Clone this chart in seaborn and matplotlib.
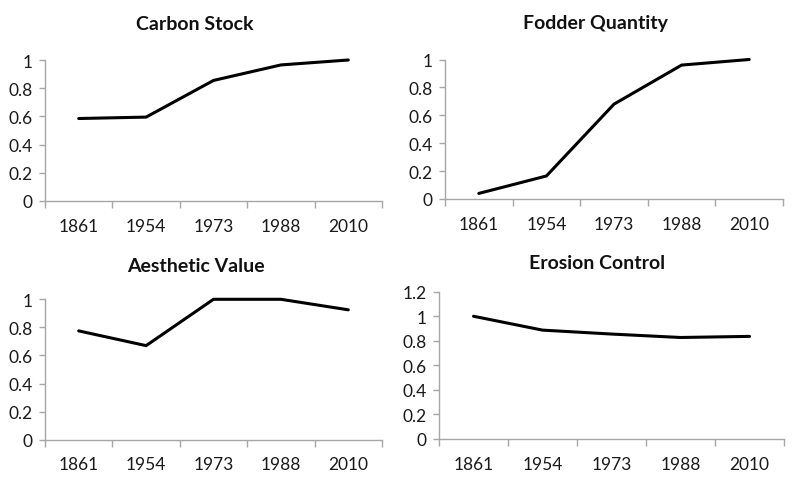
import matplotlib
matplotlib.use("Agg")
import matplotlib.pyplot as plt
import seaborn as sns
import pandas as pd
import numpy as np
from matplotlib.ticker import FixedLocator

sns.set_theme(style="white")
plt.rcParams['font.family'] = ['Lato', 'DejaVu Sans']

years = ["1861", "1954", "1973", "1988", "2010"]
carbon_stock = [0.585, 0.595, 0.855, 0.965, 1.0]
fodder_quantity = [0.04, 0.165, 0.68, 0.96, 1.0]
aesthetic_value = [0.775, 0.67, 1.0, 1.0, 0.925]
erosion_control = [1.0, 0.887, 0.855, 0.827, 0.836]

titles = ["Carbon Stock", "Fodder Quantity", "Aesthetic Value", "Erosion Control"]
series = [carbon_stock, fodder_quantity, aesthetic_value, erosion_control]
ymaxes = [1.0, 1.0, 1.0, 1.2]

W, H = 800, 485
# axes boxes in pixels: left, right, y-of-zero, y-of-top
boxes = [(45, 382, 202, 61), (445, 783, 200, 60.5),
         (45, 382, 440.7, 300.3), (439, 784, 440, 292.7)]
title_pos = [(195, 24), (595, 24), (196, 266), (597, 264)]

fig = plt.figure(figsize=(8, 4.85), dpi=100)
gray = "#a6a6a6"

for i in range(4):
    l, r, y0, yt = boxes[i]
    ax = fig.add_axes([l / W, 1 - y0 / H, (r - l) / W, (y0 - yt) / H])
    df = pd.DataFrame({"year": years, "value": series[i]})
    sns.lineplot(data=df, x="year", y="value", ax=ax, color="black",
                 linewidth=2.2, sort=False, legend=False)
    for ln in ax.lines:
        ln.set_clip_on(False)
        ln.set_solid_joinstyle("miter")
    ax.set_xlim(-0.5, len(years) - 0.5)
    ax.set_ylim(0, ymaxes[i])
    yt_vals = np.round(np.arange(0, ymaxes[i] + 0.01, 0.2), 1)
    ax.set_yticks(yt_vals)
    ax.set_yticklabels([("%g" % v) for v in yt_vals])
    ax.set_xticks(range(len(years)))
    ax.set_xticklabels(years)
    ax.xaxis.set_minor_locator(FixedLocator(np.arange(-0.5, len(years), 1.0)))
    ax.tick_params(axis="x", which="major", length=0, pad=12, labelsize=12.5, labelcolor="#1a1a1a")
    ax.tick_params(axis="x", which="minor", length=5, width=1, color=gray, direction="out", bottom=True)
    ax.tick_params(axis="y", which="major", length=4, width=1, color=gray, direction="out",
                   left=True, pad=5, labelsize=12.5, labelcolor="#1a1a1a")
    for s in ["top", "right"]:
        ax.spines[s].set_visible(False)
    for s in ["left", "bottom"]:
        ax.spines[s].set_color(gray)
        ax.spines[s].set_linewidth(1)
    ax.set_xlabel("")
    ax.set_ylabel("")
    ax.grid(False)
    tx, ty = title_pos[i]
    fig.text(tx / W, 1 - ty / H, titles[i], ha="center", va="center",
             fontsize=14, fontweight="bold", color="#111111")

fig.savefig("out.png", dpi=100)
